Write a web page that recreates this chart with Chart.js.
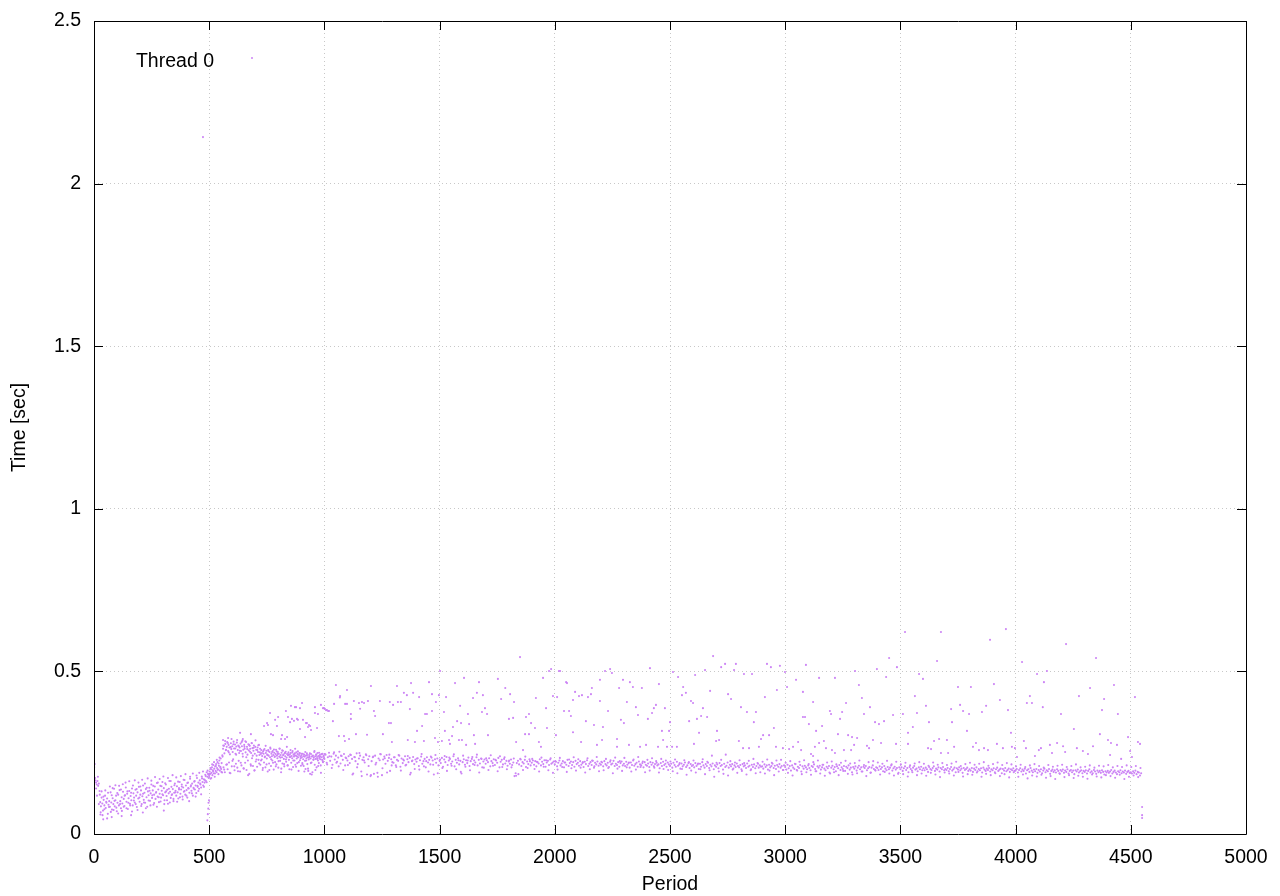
<!DOCTYPE html>
<html>
<head>
<meta charset="utf-8">
<title>Thread 0 - Time per period</title>
<script src="https://cdn.jsdelivr.net/npm/chart.js@4.4.1/dist/chart.umd.min.js"></script>
<style>
    html, body { margin: 0; padding: 0; background: #fff; }
    #chart { display: block; }
</style>
</head>
<body>
<canvas id="chart" width="1280" height="896"></canvas>
<script>
// =====================================
// Data (times in milliseconds)
// =====================================

// Axis ticks
const xTicks = [0, 500, 1000, 1500, 2000, 2500, 3000, 3500, 4000, 4500, 5000];
const yTicks = [0, 0.5, 1, 1.5, 2, 2.5];

// Warm-up, periods 0..498, every 3rd period
const warmupStart = 0, warmupStep = 3;
const warmupTimes = [
    295,215,165,158,152,163,148,155,132,98,85,112,94,72,105,88,118,80,96,109,
    62,90,101,84,128,97,75,110,92,139,85,104,118,70,96,121,88,135,101,79,
    113,94,130,108,86,119,143,99,124,77,110,132,93,117,104,140,88,125,112,97,
    136,118,83,128,109,145,99,121,134,92,116,149,105,127,96,138,113,84,131,119,
    142,102,125,152,111,134,90,121,146,108,129,157,115,137,98,124,148,112,133,160,
    119,141,104,128,152,117,136,93,125,163,130,111,145,122,138,101,127,155,133,118,
    147,128,109,141,160,124,137,152,115,143,130,166,121,149,135,112,158,140,127,170,
    146,133,155,118,142,161,137,149,126,172,145,158,139,165,152,143,177,160,149,168,
    158,182,163,190,176,185,172
];
// Warm-up, the periods in between (1..497, every 4th)
const warmupFillStart = 1, warmupFillStep = 4;
const warmupFillTimes = [
    205,172,140,118,176,92,121,67,131,58,115,76,134,99,48,127,83,146,68,119,
    141,74,102,150,81,126,63,148,92,137,71,153,84,118,158,79,131,96,162,88,
    127,69,149,103,165,92,138,74,158,112,146,86,167,124,97,155,79,142,171,103,
    133,88,164,119,148,95,175,127,84,158,113,169,100,147,122,177,92,156,131,104,
    172,139,97,163,120,181,108,150,128,174,99,161,137,113,178,146,106,167,132,184,
    118,157,141,101,176,150,125,186,139,163,115,180,148,132,188,155,122,171,192,145,
    166,178,159,195,183
];

// Ramp-up, periods 500..998, every 2nd period
const rampStart = 500, rampStep = 2;
const rampTimes = [
    178,192,185,170,199,188,205,181,196,212,187,201,176,208,194,215,190,203,221,198,
    184,210,226,195,207,232,200,218,189,238,
    262,205,271,248,190,277,258,213,268,283,199,255,274,220,266,245,187,279,261,208,
    270,252,230,284,263,196,275,247,216,269,281,204,258,272,225,249,266,192,278,255,
    211,270,287,238,259,201,274,262,219,251,283,197,268,244,226,276,257,185,271,262,
    214,249,280,233,264,209,256,272,195,247,268,223,259,241,207,266,252,228,274,243,
    251,213,246,258,229,240,197,254,247,220,261,238,205,249,256,232,244,192,258,241,
    217,252,236,262,209,247,239,226,255,243,198,250,237,221,246,259,214,241,233,252,
    204,247,238,262,225,243,190,250,236,217,256,244,231,208,248,239,253,222,235,246,
    211,242,251,228,199,244,237,249,219,240,233,255,206,245,238,226,248,213,241,251,
    232,218,246,236,194,243,249,227,238,210,
    242,236,218,247,230,209,244,238,225,200,241,233,248,215,236,194,229,243,238,185,
    232,246,220,238,190,241,228,235,252,213,239,231,244,205,237,249,226,240,218,234,
    243,230,211,245,236,228,247,221,238,233
];
// Ramp-up, the periods in between (501..997, every 4th)
const rampFillStart = 501, rampFillStep = 4;
const rampFillTimes = [
    183,203,172,214,193,221,186,209,228,198,217,235,204,191,242,
    272,198,286,259,214,280,251,188,267,292,225,276,208,263,244,289,193,270,256,219,
    283,247,202,268,285,236,261,181,274,253,210,279,241,265,196,288,229,258,273,217,
    262,226,249,203,258,236,271,214,243,255,197,266,230,252,219,260,239,208,254,246,
    224,263,235,201,257,242,215,250,229,268,211,245,237,258,198,251,226,243,262,207,
    239,254,221,248,233,
    247,214,239,192,252,226,243,201,235,248,218,183,240,229,255,197,244,231,209,250,
    238,188,246,224,241
];

// Steady state, every 5th period
const steadyStep = 5;
const steadyAStart = 1000;
const steadyATimes = [
    231,244,219,236,250,225,238,213,247,229,241,222,235,253,217,240,228,246,211,233,
    226,239,218,243,231,186,237,224,248,215,232,241,192,228,236,220,245,183,230,239,
    178,224,236,185,241,219,188,232,227,245,181,229,238,216,243,225,234,194,230,221,
    219,236,211,228,225,241,207,232,218,226,239,213,230,221,234,188,224,237,215,229,
    222,233,209,227,238,216,224,231,205,236,220,228,214,235,226,183,230,219,232,211,
    225,218,234,207,229,221,237,212,226,231,216,223,239,208,228,219,233,214,225,186,
    221,230,213,227,218,235,209,224,231,215,226,220,236,211,228,217,232,205,223,229,
    216,227,221,233,208,224,218,230,212,226,219,234,205,222,228,214,231,217,225,210,
    223,216,229,212,220,178,187,218,225,214,231,209,221,217,228,206,223,215,230,211,
    219,226,213,224,208,221,217,230,211,222,215,227,207,220,225,212,229,216,219,223
];
const steadyBStart = 2000;
const steadyBTimes = [
    214,222,208,219,226,211,217,224,205,220,213,228,209,218,223,212,221,207,225,215,
    219,210,224,213,218,206,222,215,227,209,216,221,212,225,204,219,214,223,210,217,
    213,220,208,224,215,211,219,206,222,214,217,225,209,216,212,221,207,218,223,211,
    216,209,222,213,218,204,220,212,226,210,215,219,207,223,214,211,218,205,221,213,
    210,217,206,221,213,219,208,215,224,211,214,202,218,209,222,212,216,207,220,214,
    209,216,204,219,212,207,222,210,214,201,217,208,213,220,206,211,218,203,215,209,
    212,205,218,209,214,200,216,207,221,211,204,215,209,219,203,213,208,217,199,211,
    207,214,202,218,209,212,198,216,206,210,220,204,213,208,215,201,211,206,217,209,
    205,212,199,215,208,211,203,217,207,210,196,213,206,214,202,209,218,204,211,207,
    208,201,214,206,211,198,213,205,209,216,203,210,200,212,207,215,204,209,197,211
];
const steadyCStart = 3000;
const steadyCTimes = [
    206,198,213,202,209,195,211,204,200,215,197,207,203,212,192,208,201,210,205,199,
    211,203,196,209,206,214,200,193,208,204,210,198,205,213,201,196,207,202,209,186,
    204,210,199,206,193,208,202,212,197,205,200,209,194,207,203,211,198,204,190,206,
    201,208,195,204,210,199,205,192,207,203,209,196,202,206,188,204,211,200,197,205,
    203,197,208,200,205,193,209,201,196,206,199,204,211,195,202,207,198,203,185,205,
    199,205,194,202,208,197,203,190,206,200,195,204,209,198,201,193,205,199,207,196,
    202,196,204,199,191,206,200,197,203,208,194,201,198,205,192,203,199,206,196,200,
    197,203,193,200,206,195,199,204,190,202,198,205,196,201,188,203,197,200,204,194,
    199,195,203,191,201,197,205,193,200,196,202,189,204,198,194,201,197,203,192,199,
    196,202,190,199,204,194,198,201,187,200,195,203,193,197,201,191,199,196,202,194
];
const steadyDStart = 4000;
const steadyDTimes = [
    195,200,189,197,202,192,198,194,201,186,196,199,191,203,195,190,198,193,200,188,
    197,192,199,187,195,201,190,196,193,200,185,194,198,191,196,189,199,194,187,197,
    193,198,188,195,191,199,186,194,197,190,195,184,196,192,198,189,193,196,187,194,
    191,196,186,194,199,189,193,187,197,192,185,195,190,194,188,196,191,183,193,189,
    194,188,192,197,186,191,195,189,184,193,190,196,187,192,189,195,185,191,194,188,
    190,186,193,188,195,184,191,189,180,187
];
// Steady state, the wider spread of the band (1002..4542, every 10th)
const steadyFillStart = 1002, steadyFillStep = 10;
const steadyFillTimes = [
    246,214,239,203,251,219,208,241,197,235, 212,244,183,236,205,249,178,226,242,209,
    181,238,214,176,246,202,233,189,244,211, 236,206,243,195,229,211,240,183,226,200,
    232,198,246,208,224,192,238,213,243,187, 229,203,240,194,235,210,245,199,227,191,
    241,207,226,196,237,212,244,189,231,204, 233,197,242,210,228,193,239,206,236,199,
    226,205,232,179,184,229,197,238,203,224, 231,200,222,192,235,207,227,196,233,188,
    224,198,234,206,220,191,229,202,236,195, 230,204,221,189,233,199,226,208,237,193,
    222,196,231,203,227,187,235,201,224,194, 234,205,220,192,229,198,237,206,223,190,
    228,195,233,204,219,189,231,200,226,197, 223,193,229,187,218,200,227,182,221,195,
    226,189,217,199,230,184,222,196,241,176, 219,192,228,185,244,180,224,198,220,188,
    227,194,218,183,225,199,231,187,216,190, 222,186,229,195,219,181,226,192,228,197,
    219,188,224,180,216,195,222,184,227,190, 215,182,221,193,226,186,213,179,220,189,
    223,190,214,181,219,194,225,185,217,183, 218,187,226,192,212,178,221,189,224,195,
    220,183,216,191,225,186,214,180,222,188, 214,184,219,177,211,190,217,181,221,186,
    216,179,210,188,220,183,213,175,218,189, 212,186,217,180,222,191,209,177,215,184,
    219,182,213,189,216,176,221,185,210,181, 215,187,220,178,212,184,218,174,214,190,
    208,176,213,183,206,171,211,180,215,177, 209,182,204,173,212,178,207,169,210,185,
    213,175,206,181,209,172,214,179,205,176, 207,170,211,183,204,177,210,174,208,181,
    212,178,205,173,209,182,206,169,211,176, 206,180,209,175,203
];

// Scattered points outside the band: [period, ms]
const outlierPoints = [
    [473,2143],[492,42],[494,61],[496,78],[497,96],[499,104],[40,45],[28,60],[77,52],[161,58],
    [212,66],[303,72],[120,55],
    [560,289],[582,295],[634,311],[646,292],[681,307],[738,332],[751,341],[755,335],[764,372],[768,307],
    [777,304],[786,351],[794,332],[799,360],[812,292],[816,304],[829,292],[833,378],[838,298],[842,360],
    [851,344],[855,394],[859,354],[868,348],[872,390],[877,390],[881,354],[885,351],[894,387],[894,323],
    [903,403],[907,351],[916,298],[920,341],[924,341],[929,329],[933,335],[938,332],[942,320],[959,372],
    [959,390],[968,326],[972,369],[985,397],[994,387],[998,387],
    [1002,385],[1007,381],[1011,381],[1016,378],[1020,378],[1037,347],[1042,400],[1050,458],[1063,301],
    [1067,420],[1068,424],[1085,301],[1089,286],[1090,400],[1098,443],[1098,400],[1107,292],[1115,369],
    [1115,354],[1128,409],[1137,307],[1150,403],[1155,385],[1163,406],[1172,403],[1185,305],[1189,409],
    [1202,455],[1215,378],[1220,363],[1241,409],[1254,307],[1280,341],[1284,406],[1289,341],[1293,283],
    [1298,397],[1315,455],[1319,406],[1332,406],[1345,434],[1358,427],[1362,289],[1371,384],[1376,464],
    [1385,434],[1393,283],[1402,317],[1411,421],[1424,332],[1432,286],[1437,369],[1445,369],[1454,467],
    [1467,378],[1467,430],[1480,295],[1484,406],[1493,283],[1497,427],[1502,501],[1510,286],[1519,375],
    [1523,317],[1528,421],[1541,289],[1545,277],[1554,301],[1558,329],[1567,464],[1576,347],[1584,289],
    [1589,394],[1593,341],[1597,289],[1606,480],[1615,274],[1623,369],[1628,338],[1645,418],[1649,304],
    [1654,277],[1662,434],[1671,467],[1684,375],[1688,427],[1697,387],[1706,369],[1710,304],
    [1753,477],[1767,415],[1785,449],[1801,354],[1806,430],[1819,357],[1823,406],[1832,283],[1849,544],
    [1862,258],[1871,307],[1875,360],[1888,369],[1888,307],[1897,341],[1914,326],[1918,418],[1931,283],
    [1940,268],[1949,480],[1962,387],[1966,326],[1975,501],[1984,507],[1992,424],[2005,304],[2010,421],
    [2018,501],[2023,501],[2040,378],[2049,467],[2053,464],[2062,378],[2070,363],
    [2079,412],[2079,313],[2088,437],[2105,424],[2114,283],[2118,427],[2135,347],[2144,421],[2157,430],
    [2161,449],[2170,335],[2183,274],[2196,409],[2196,474],[2205,289],[2209,329],[2218,501],[2231,378],
    [2240,507],[2248,495],[2270,292],[2270,268],[2279,449],[2287,351],[2296,474],[2300,341],[2313,406],
    [2322,274],[2326,467],[2339,452],[2352,390],[2361,366],[2370,268],[2378,449],[2396,274],[2404,354],
    [2413,510],[2422,372],[2430,387],[2439,397],[2448,268],[2452,461],[2465,317],[2470,289],[2478,387],
    [2487,268],[2496,317],[2500,344],[2509,268],[2513,498],[2530,268],[2535,483],[2552,427],[2557,452],
    [2569,434],[2583,347],[2591,409],[2600,403],[2604,277],[2609,489],[2617,354],[2626,311],[2635,363],
    [2643,387],[2652,504],[2661,360],[2674,440],[2687,547],[2700,286],[2704,317],[2713,289],[2722,513],
    [2739,523],[2752,430],[2765,415],[2778,504],[2786,523],[2799,286],[2808,390],[2817,264],[2821,492],
    [2834,375],[2843,264],[2856,492],[2864,344],[2873,375],[2886,268],[2895,292],[2904,304],[2912,421],
    [2921,523],[2930,304],[2938,513],[2951,326],[2960,268],[2964,443],[2977,517],[2990,264],[2999,498],
    [3008,452],[3017,261],[3034,268],[3047,474],[3056,283],[3069,258],[3077,360],[3090,520],[3103,338],
    [3077,437],[3086,360],[3112,246],[3121,240],[3121,406],[3129,268],[3134,317],[3147,280],[3147,480],
    [3160,332],[3168,286],[3177,264],[3194,378],[3199,369],[3203,258],[3216,480],[3216,249],[3229,307],
    [3238,354],[3247,375],[3255,258],[3264,403],[3273,304],[3286,258],[3290,298],[3299,274],[3303,501],
    [3312,295],[3320,458],[3333,418],[3342,369],[3355,271],[3364,264],[3368,390],[3381,289],[3390,344],
    [3398,507],[3407,338],[3416,280],[3429,347],[3438,483],[3451,541],[3468,366],[3481,277],[3485,513],
    [3511,369],[3520,621],[3533,311],[3533,277],[3554,329],[3563,424],[3572,372],[3581,492],[3598,477],
    [3611,394],[3620,264],[3624,344],[3633,261],[3646,286],[3659,532],[3668,292],[3676,249],[3676,621],
    [3702,289],[3707,249],[3720,384],[3724,344],[3733,268],[3750,452],[3759,397],[3772,378],[3789,317],
    [3798,369],[3806,452],[3815,268],[3828,280],[3841,258],[3854,375],[3863,264],[3872,394],[3880,258],
    [3889,597],[3906,461],[3919,277],[3932,412],[3945,264],[3958,630],[3967,381],[3980,311],[3984,268],
    [3997,264],[4006,237],[4028,529],[4036,286],[4045,264],[4049,403],[4062,424],[4071,403],[4084,240],
    [4093,492],[4101,258],[4110,264],[4118,390],[4123,467],[4136,501],[4149,274],
    [4158,249],[4180,280],[4197,369],[4206,270],[4215,252],[4219,584],[4253,323],[4266,264],[4275,424],
    [4292,255],[4314,246],[4323,449],[4336,270],[4349,541],[4366,307],[4375,381],[4384,415],[4401,289],
    [4410,243],[4414,280],[4427,458],[4440,274],[4444,369],[4458,231],[4488,298],[4497,255],[4505,237],
    [4518,421],[4531,283],[4540,277],[4549,83],[4549,58],[4549,49]
];

// =====================================
// Styling
// =====================================
const FONT_FAMILY = "'Liberation Sans', Arial, Helvetica, sans-serif";
const FONT_SIZE = 19.5;
const POINT_COLOR = "#cc84f5";
const GRID_COLOR = "#c8c8c8";

// =====================================
// Build points
// =====================================
function addRun(points, start, step, times) {
    times.forEach((t, i) => points.push({ x: start + i * step, y: t / 1000 }));
}

const threadPoints = [];
addRun(threadPoints, warmupStart, warmupStep, warmupTimes);
addRun(threadPoints, warmupFillStart, warmupFillStep, warmupFillTimes);
addRun(threadPoints, rampStart, rampStep, rampTimes);
addRun(threadPoints, rampFillStart, rampFillStep, rampFillTimes);
addRun(threadPoints, steadyAStart, steadyStep, steadyATimes);
addRun(threadPoints, steadyBStart, steadyStep, steadyBTimes);
addRun(threadPoints, steadyCStart, steadyStep, steadyCTimes);
addRun(threadPoints, steadyDStart, steadyStep, steadyDTimes);
addRun(threadPoints, steadyFillStart, steadyFillStep, steadyFillTimes);
outlierPoints.forEach(p => threadPoints.push({ x: p[0], y: p[1] / 1000 }));

// grid lines on the frame edges are hidden, the frame is drawn instead
function innerGrid(first, last) {
    return c => (c.tick && (c.tick.value === first || c.tick.value === last)) ? "rgba(0,0,0,0)" : GRID_COLOR;
}

// =====================================
// Frame, inward ticks and key (gnuplot look)
// =====================================
const framePlugin = {
    id: "frame",
    afterDraw(chart) {
        const { ctx, chartArea: a, scales } = chart;
        const xs = scales.x, ys = scales.y;
        const tick = 9;
        ctx.save();
        ctx.strokeStyle = "#000";
        ctx.lineWidth = 1;
        ctx.beginPath();
        ctx.rect(a.left + 0.5, a.top + 0.5, a.right - a.left, a.bottom - a.top);
        xTicks.forEach(v => {
            const px = Math.round(xs.getPixelForValue(v)) + 0.5;
            ctx.moveTo(px, a.bottom); ctx.lineTo(px, a.bottom - tick);
            ctx.moveTo(px, a.top); ctx.lineTo(px, a.top + tick);
        });
        yTicks.forEach(v => {
            const py = Math.round(ys.getPixelForValue(v)) + 0.5;
            ctx.moveTo(a.left, py); ctx.lineTo(a.left + tick, py);
            ctx.moveTo(a.right, py); ctx.lineTo(a.right - tick, py);
        });
        ctx.stroke();

        // key: label then a sample dot
        ctx.font = `${FONT_SIZE}px ${FONT_FAMILY}`;
        ctx.fillStyle = "#000";
        ctx.textAlign = "right";
        ctx.textBaseline = "middle";
        ctx.fillText(chart.data.datasets[0].label, a.left + 120, a.top + 41);
        ctx.fillStyle = POINT_COLOR;
        ctx.beginPath();
        ctx.arc(a.left + 158, a.top + 37, 1, 0, Math.PI * 2);
        ctx.fill();
        ctx.restore();
    }
};

// =====================================
// Chart
// =====================================
const ctx = document.getElementById("chart").getContext("2d");
new Chart(ctx, {
    type: "scatter",
    data: {
        datasets: [{
            label: "Thread 0",
            data: threadPoints,
            pointRadius: 1.05,
            pointBorderWidth: 0,
            pointBackgroundColor: POINT_COLOR,
            pointHoverRadius: 0
        }]
    },
    options: {
        responsive: false,
        animation: false,
        devicePixelRatio: 1,
        layout: { padding: { top: 21, right: 34, left: 0, bottom: 0 } },
        plugins: {
            legend: { display: false },
            tooltip: { enabled: false }
        },
        scales: {
            x: {
                type: "linear",
                min: 0,
                max: 5000,
                afterBuildTicks: scale => { scale.ticks = xTicks.map(v => ({ value: v })); },
                afterFit: scale => {
                    scale.height = 62;
                    scale.paddingLeft = 0;
                    scale.paddingRight = 0;
                },
                ticks: {
                    color: "#000",
                    padding: 12,
                    maxRotation: 0,
                    callback: v => String(v),
                    font: { family: FONT_FAMILY, size: FONT_SIZE }
                },
                grid: { color: innerGrid(0, 5000), drawTicks: false },
                border: { display: false, dash: [1, 3] },
                title: {
                    display: true,
                    text: "Period",
                    color: "#000",
                    padding: { top: 0, bottom: 0 },
                    font: { family: FONT_FAMILY, size: FONT_SIZE }
                }
            },
            y: {
                type: "linear",
                min: 0,
                max: 2.5,
                afterBuildTicks: scale => { scale.ticks = yTicks.map(v => ({ value: v })); },
                afterFit: scale => {
                    scale.width = 94;
                    scale.paddingTop = 0;
                    scale.paddingBottom = 0;
                },
                ticks: {
                    color: "#000",
                    padding: 13,
                    callback: v => String(v),
                    font: { family: FONT_FAMILY, size: FONT_SIZE }
                },
                grid: { color: innerGrid(0, 2.5), drawTicks: false },
                border: { display: false, dash: [1, 3] },
                title: {
                    display: true,
                    text: "Time [sec]",
                    color: "#000",
                    padding: { top: 8, bottom: 0 },
                    font: { family: FONT_FAMILY, size: FONT_SIZE }
                }
            }
        }
    },
    plugins: [framePlugin]
});
</script>
</body>
</html>
